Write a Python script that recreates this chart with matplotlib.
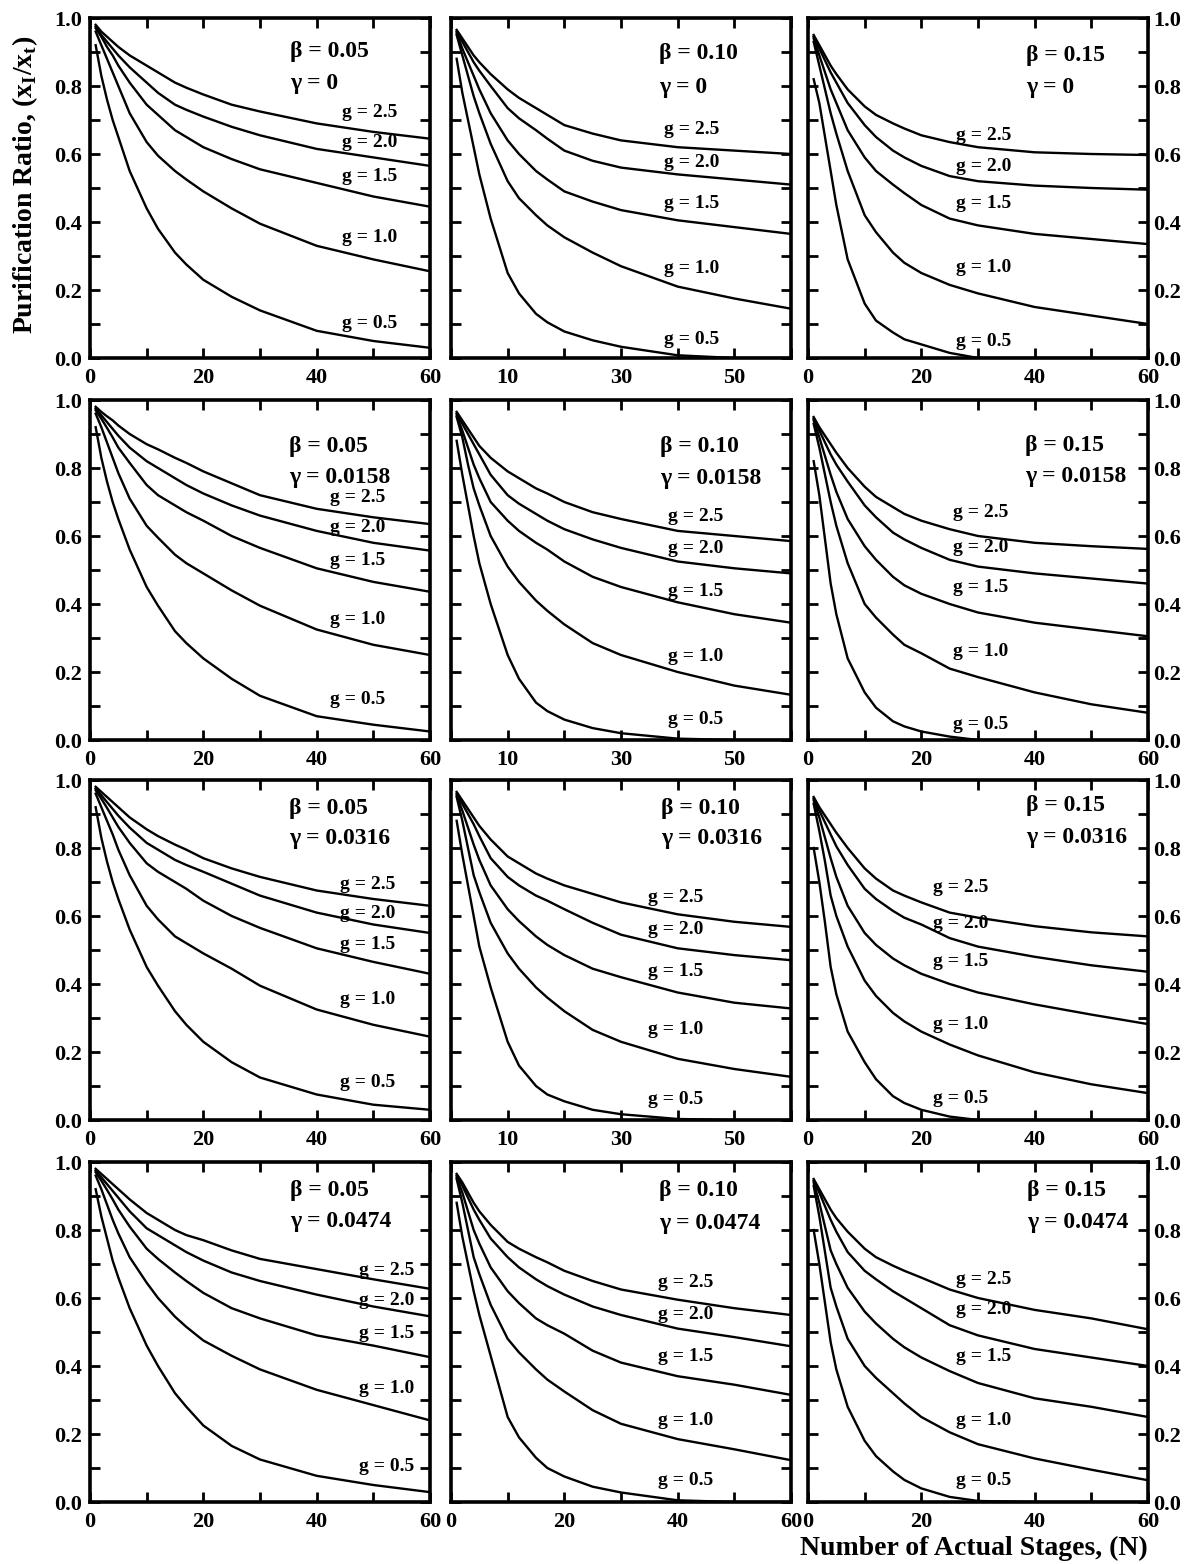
import matplotlib
matplotlib.use("Agg")
import matplotlib.pyplot as plt
import numpy as np

plt.rcParams['font.family'] = ['Liberation Serif', 'DejaVu Serif']
plt.rcParams['font.weight'] = 'bold'

# ---------------- data ----------------
N = [1, 2, 3, 4, 5, 7, 10, 12, 15, 17, 20, 25, 30, 40, 50, 60]
g_values = [2.5, 2.0, 1.5, 1.0, 0.5]
betas = ['0.05', '0.10', '0.15']
gammas = ['0', '0.0158', '0.0316', '0.0474']

b05_gam0 = {
    2.5: [.98, .96, .945, .93, .915, .89, .86, .84, .81, .795, .775, .745, .725, .69, .665, .645],
    2.0: [.975, .95, .93, .91, .89, .855, .81, .78, .745, .73, .71, .68, .655, .615, .59, .565],
    1.5: [.97, .945, .915, .89, .86, .81, .745, .715, .67, .65, .62, .585, .555, .515, .475, .445],
    1.0: [.96, .92, .88, .84, .80, .72, .635, .595, .55, .525, .49, .44, .395, .33, .29, .255],
    0.5: [.92, .83, .76, .70, .65, .55, .44, .38, .31, .275, .23, .18, .14, .08, .05, .03],
}
b10_gam0 = {
    2.5: [.965, .94, .915, .89, .87, .835, .79, .765, .735, .715, .685, .66, .64, .62, .61, .60],
    2.0: [.96, .93, .90, .87, .845, .80, .735, .705, .67, .645, .61, .58, .56, .54, .525, .51],
    1.5: [.955, .91, .87, .83, .79, .72, .64, .60, .55, .525, .49, .46, .435, .405, .385, .365],
    1.0: [.95, .89, .83, .77, .72, .63, .52, .47, .42, .39, .355, .31, .27, .21, .175, .145],
    0.5: [.88, .78, .70, .62, .54, .41, .25, .19, .13, .105, .078, .052, .033, .008, 0, 0],
}
b15_gam0 = {
    2.5: [.95, .92, .89, .86, .835, .79, .74, .715, .69, .675, .655, .635, .62, .605, .60, .597],
    2.0: [.945, .91, .875, .84, .81, .75, .685, .65, .61, .59, .565, .535, .52, .507, .50, .495],
    1.5: [.94, .89, .84, .79, .75, .67, .59, .55, .51, .485, .45, .41, .39, .365, .35, .335],
    1.0: [.93, .86, .79, .72, .66, .55, .42, .37, .31, .28, .25, .215, .19, .15, .125, .10],
    0.5: [.82, .75, .65, .55, .45, .29, .16, .11, .075, .055, .04, .015, 0, 0, 0, 0],
}
b05_gam1 = {
    2.5: [.98, .965, .952, .94, .925, .90, .87, .855, .83, .815, .79, .755, .72, .68, .655, .635],
    2.0: [.975, .955, .935, .915, .895, .86, .82, .80, .77, .75, .725, .69, .66, .615, .58, .557],
    1.5: [.97, .945, .918, .89, .86, .815, .75, .72, .69, .67, .645, .60, .565, .505, .465, .436],
    1.0: [.96, .92, .875, .83, .785, .71, .63, .595, .545, .52, .49, .44, .395, .325, .28, .25],
    0.5: [.92, .83, .76, .70, .65, .56, .45, .395, .32, .285, .24, .18, .13, .07, .045, .025],
}
b10_gam1 = {
    2.5: [.965, .94, .915, .89, .865, .83, .79, .77, .74, .725, .70, .67, .65, .615, .60, .585],
    2.0: [.96, .93, .90, .87, .84, .78, .72, .695, .665, .645, .62, .59, .565, .525, .505, .49],
    1.5: [.955, .91, .86, .81, .77, .70, .645, .615, .58, .56, .525, .48, .45, .405, .37, .345],
    1.0: [.95, .89, .81, .74, .69, .60, .51, .465, .41, .38, .34, .285, .25, .20, .16, .133],
    0.5: [.88, .78, .69, .60, .52, .40, .25, .18, .11, .085, .06, .035, .02, .004, 0, 0],
}
b15_gam1 = {
    2.5: [.95, .92, .895, .87, .845, .80, .745, .715, .685, .665, .645, .62, .60, .58, .57, .562],
    2.0: [.945, .91, .875, .84, .81, .76, .69, .655, .61, .59, .565, .53, .51, .49, .475, .46],
    1.5: [.94, .89, .835, .78, .73, .65, .57, .53, .48, .455, .43, .40, .375, .345, .325, .305],
    1.0: [.93, .86, .78, .70, .63, .52, .40, .36, .31, .28, .255, .21, .185, .14, .105, .08],
    0.5: [.82, .72, .59, .46, .37, .24, .14, .095, .055, .04, .025, .01, 0, 0, 0, 0],
}
b05_gam2 = {
    2.5: [.98, .965, .95, .935, .92, .89, .855, .835, .81, .795, .77, .74, .715, .675, .65, .63],
    2.0: [.975, .955, .935, .915, .895, .86, .815, .795, .765, .75, .73, .695, .66, .61, .575, .55],
    1.5: [.97, .945, .918, .89, .862, .815, .755, .73, .70, .68, .645, .60, .565, .505, .465, .43],
    1.0: [.96, .92, .88, .84, .795, .72, .63, .59, .54, .52, .49, .445, .395, .325, .28, .245],
    0.5: [.92, .83, .76, .70, .65, .56, .45, .395, .32, .28, .23, .17, .125, .075, .045, .03],
}
b10_gam2 = {
    2.5: [.965, .94, .915, .89, .865, .825, .775, .755, .725, .71, .69, .665, .64, .605, .583, .568],
    2.0: [.96, .93, .90, .87, .835, .77, .715, .69, .66, .645, .62, .58, .545, .505, .485, .47],
    1.5: [.955, .91, .86, .81, .765, .69, .62, .585, .54, .515, .485, .445, .42, .375, .345, .328],
    1.0: [.95, .88, .80, .72, .67, .58, .49, .445, .39, .36, .32, .265, .23, .18, .15, .127],
    0.5: [.88, .78, .69, .60, .51, .39, .23, .16, .10, .075, .055, .03, .017, .003, 0, 0],
}
b15_gam2 = {
    2.5: [.95, .92, .895, .87, .845, .80, .74, .71, .675, .66, .64, .61, .595, .57, .552, .54],
    2.0: [.945, .91, .875, .84, .805, .75, .68, .65, .615, .595, .575, .535, .51, .48, .455, .436],
    1.5: [.94, .89, .83, .77, .715, .63, .55, .515, .475, .455, .43, .40, .375, .34, .31, .282],
    1.0: [.93, .85, .76, .66, .60, .51, .41, .365, .315, .29, .26, .222, .19, .14, .105, .079],
    0.5: [.80, .70, .58, .45, .37, .26, .17, .12, .07, .05, .03, .01, 0, 0, 0, 0],
}
b05_gam3 = {
    2.5: [.98, .965, .95, .935, .92, .89, .85, .83, .80, .785, .77, .74, .715, .685, .655, .627],
    2.0: [.975, .955, .935, .915, .895, .855, .805, .785, .755, .735, .71, .675, .65, .61, .575, .546],
    1.5: [.97, .945, .918, .89, .86, .81, .745, .715, .675, .65, .615, .57, .54, .49, .46, .426],
    1.0: [.96, .92, .875, .83, .79, .72, .645, .60, .545, .515, .475, .43, .39, .33, .285, .24],
    0.5: [.92, .84, .775, .71, .66, .57, .46, .40, .32, .28, .225, .165, .125, .077, .05, .029],
}
b10_gam3 = {
    2.5: [.965, .94, .91, .88, .855, .815, .765, .745, .72, .705, .68, .65, .625, .595, .57, .55],
    2.0: [.96, .93, .895, .86, .83, .775, .72, .69, .655, .635, .61, .575, .55, .51, .485, .458],
    1.5: [.955, .91, .855, .80, .76, .69, .62, .585, .54, .52, .495, .445, .41, .37, .345, .315],
    1.0: [.95, .88, .80, .72, .67, .58, .48, .44, .39, .36, .325, .27, .23, .185, .155, .123],
    0.5: [.88, .78, .70, .62, .55, .43, .25, .19, .13, .10, .075, .045, .028, .005, 0, 0],
}
b15_gam3 = {
    2.5: [.95, .92, .89, .86, .835, .795, .745, .72, .695, .68, .66, .625, .60, .565, .54, .508],
    2.0: [.945, .91, .87, .83, .795, .735, .68, .655, .62, .60, .57, .52, .49, .45, .425, .40],
    1.5: [.94, .88, .81, .74, .70, .63, .56, .525, .48, .455, .425, .385, .35, .305, .28, .25],
    1.0: [.93, .84, .735, .63, .575, .48, .40, .365, .32, .29, .25, .205, .17, .128, .095, .064],
    0.5: [.80, .70, .585, .47, .39, .28, .18, .135, .09, .065, .04, .015, .003, 0, 0, 0],
}

panels = [
    [b05_gam0, b10_gam0, b15_gam0],
    [b05_gam1, b10_gam1, b15_gam1],
    [b05_gam2, b10_gam2, b15_gam2],
    [b05_gam3, b10_gam3, b15_gam3],
]

x_labels_std = ['0', '', '20', '', '40', '', '60']
x_labels_mid = ['', '10', '', '30', '', '50', '']
y_labels = ['0.0', '', '0.2', '', '0.4', '', '0.6', '', '0.8', '', '1.0']

# ---------------- layout (axes-fraction text positions) ----------------
param_pos = [
    [(0.588, 0.900, 0.807), (0.611, 0.896, 0.797), (0.642, 0.891, 0.797)],
    [(0.585, 0.862, 0.773), (0.615, 0.862, 0.768), (0.637, 0.865, 0.775)],
    [(0.585, 0.917, 0.828), (0.619, 0.917, 0.828), (0.640, 0.926, 0.832)],
    [(0.587, 0.917, 0.824), (0.613, 0.916, 0.818), (0.645, 0.916, 0.823)],
]
glabel_pos = [
    [(0.740, [0.722, 0.633, 0.534, 0.355, 0.102]),
     (0.626, [0.671, 0.574, 0.453, 0.262, 0.054]),
     (0.436, [0.653, 0.564, 0.453, 0.267, 0.050])],
    [(0.706, [0.714, 0.626, 0.529, 0.355, 0.118]),
     (0.638, [0.657, 0.562, 0.438, 0.246, 0.059]),
     (0.427, [0.670, 0.565, 0.448, 0.260, 0.045])],
    [(0.736, [0.693, 0.608, 0.515, 0.353, 0.111]),
     (0.578, [0.654, 0.559, 0.436, 0.265, 0.059]),
     (0.369, [0.683, 0.579, 0.465, 0.282, 0.064])],
    [(0.790, [0.681, 0.593, 0.495, 0.333, 0.103]),
     (0.610, [0.645, 0.552, 0.429, 0.241, 0.064]),
     (0.435, [0.655, 0.567, 0.429, 0.241, 0.064])],
]

FW, FH = 1200, 1564
fig = plt.figure(figsize=(FW / 100, FH / 100), dpi=100)
col_left = [90, 451, 808]
row_top = [18, 400, 780, 1162]
PW, PH = 340, 340

for r in range(4):
    for c in range(3):
        ax = fig.add_axes([col_left[c] / FW, 1 - (row_top[r] + PH) / FH, PW / FW, PH / FH])
        data = panels[r][c]
        for g in g_values:
            ax.plot(N, data[g], color='black', lw=1.7, solid_joinstyle='round')
        ax.set_xlim(0, 60)
        ax.set_ylim(0, 1)
        for s in ax.spines.values():
            s.set_linewidth(2.6)
        ax.set_xticks(range(0, 61, 10))
        ax.set_yticks(np.round(np.arange(0, 1.01, 0.1), 1))
        ax.tick_params(direction='in', top=True, right=True, length=7, width=2,
                       labelsize=16, pad=7)
        ax.set_xticklabels(x_labels_mid if (c == 1 and r < 3) else x_labels_std,
                           fontweight='bold')
        ax.set_yticklabels(y_labels, fontweight='bold')
        if c == 0:
            ax.tick_params(axis='y', labelleft=True, labelright=False, pad=6)
        elif c == 2:
            ax.tick_params(axis='y', labelleft=False, labelright=True, pad=4)
        else:
            ax.tick_params(axis='y', labelleft=False, labelright=False)

        px, pyb, pyg = param_pos[r][c]
        ax.text(px, pyb, 'β = ' + betas[c], transform=ax.transAxes,
                fontsize=17, fontweight='bold', ha='left', va='center')
        ax.text(px, pyg, 'γ = ' + gammas[r], transform=ax.transAxes,
                fontsize=17, fontweight='bold', ha='left', va='center')
        gx, gys = glabel_pos[r][c]
        for g, gy in zip(g_values, gys):
            ax.text(gx, gy, 'g = %.1f' % g, transform=ax.transAxes,
                    fontsize=14, fontweight='bold', ha='left', va='center')

fig.text(25 / FW, 1 - 185 / FH, r'Purification Ratio, (x$_\mathregular{I}$/x$_\mathregular{t}$)',
         rotation=90, ha='center', va='center', fontsize=20, fontweight='bold')
fig.text(800 / FW, 1 - 1548 / FH, 'Number of Actual Stages, (N)',
         ha='left', va='center', fontsize=20, fontweight='bold')

fig.savefig('out.png', dpi=100, facecolor='white')
